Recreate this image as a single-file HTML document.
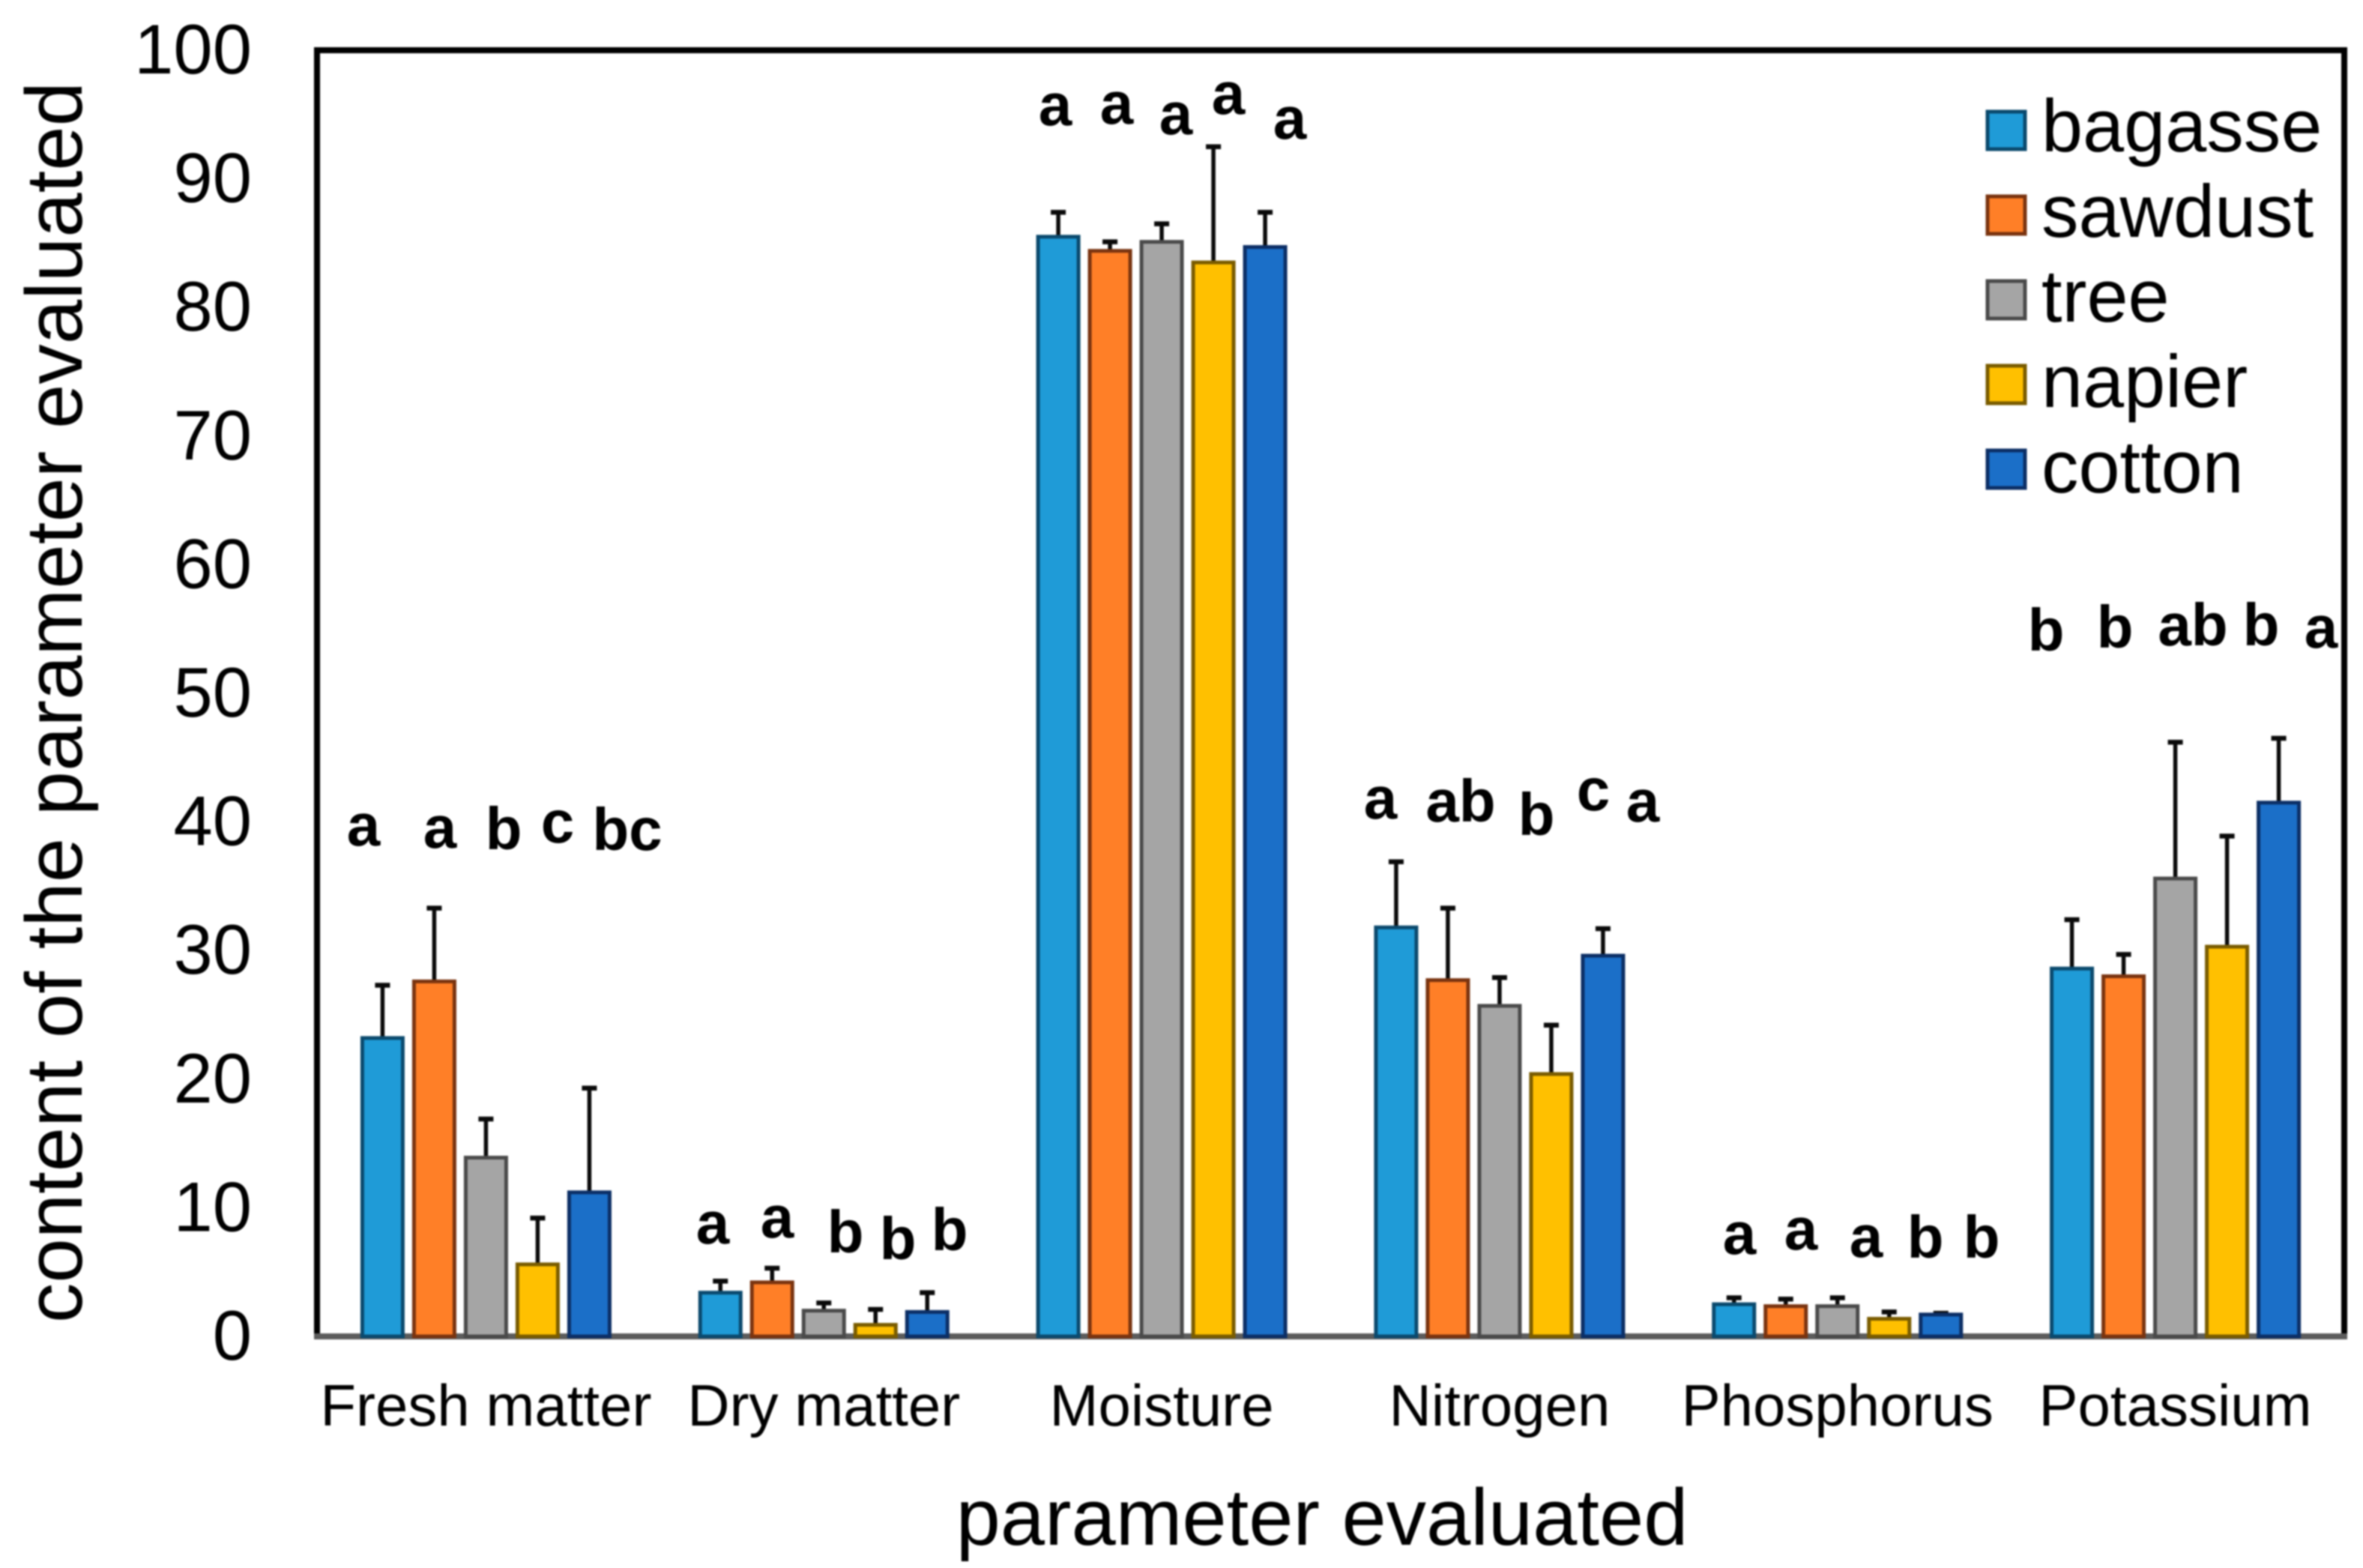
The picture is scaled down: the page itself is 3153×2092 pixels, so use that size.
<!DOCTYPE html>
<html lang="en">
<head>
<meta charset="utf-8">
<title>Content of the parameter evaluated</title>
<style>
  html, body { margin: 0; padding: 0; background: #fff; }
  body { width: 3153px; height: 2092px; overflow: hidden; }
  svg { display: block; filter: blur(1px); }
  text { font-family: "Liberation Sans", Arial, sans-serif; fill: #000; }
  .sig { font-size: 80px; font-weight: 700; text-anchor: middle; }
  .legend-label { font-size: 99px; }
</style>
</head>
<body>
<svg id="chart" xmlns="http://www.w3.org/2000/svg" width="3153" height="2092" viewBox="0 0 3153 2092">
  <rect x="0" y="0" width="3153" height="2092" fill="#ffffff"/>
  <g id="bars"></g>
  <path d="M423 1783 V67 H3128 V1783" fill="none" stroke="#000" stroke-width="8"/>
  <line x1="419" y1="1783" x2="3132" y2="1783" stroke="#5c5c5c" stroke-width="8"/>
  <g id="bars-top"></g>
  <g id="yticks"></g>
  <g id="xticks"></g>
  <text transform="translate(109,1765) rotate(-90)" font-size="106.5" textLength="1656" lengthAdjust="spacingAndGlyphs">content of the parameter evaluated</text>
  <text x="1764" y="2061" font-size="106.5" text-anchor="middle">parameter evaluated</text>

  <g>
    <text class="sig" x="485" y="1128">a</text>
    <text class="sig" x="587" y="1131">a</text>
    <text class="sig" x="672" y="1133">b</text>
    <text class="sig" x="744" y="1124">c</text>
    <text class="sig" x="837" y="1134">bc</text>

    <text class="sig" x="951" y="1659">a</text>
    <text class="sig" x="1037" y="1651">a</text>
    <text class="sig" x="1128" y="1671">b</text>
    <text class="sig" x="1198" y="1680">b</text>
    <text class="sig" x="1267" y="1668">b</text>

    <text class="sig" x="1408" y="167">a</text>
    <text class="sig" x="1490" y="165">a</text>
    <text class="sig" x="1569" y="179">a</text>
    <text class="sig" x="1639" y="152">a</text>
    <text class="sig" x="1721" y="185">a</text>

    <text class="sig" x="1842" y="1092">a</text>
    <text class="sig" x="1949" y="1096">ab</text>
    <text class="sig" x="2050" y="1114">b</text>
    <text class="sig" x="2126" y="1081">c</text>
    <text class="sig" x="2192" y="1096">a</text>

    <text class="sig" x="2321" y="1673">a</text>
    <text class="sig" x="2403" y="1667">a</text>
    <text class="sig" x="2490" y="1677">a</text>
    <text class="sig" x="2569" y="1678">b</text>
    <text class="sig" x="2644" y="1678">b</text>

    <text class="sig" x="2730" y="868">b</text>
    <text class="sig" x="2822" y="864">b</text>
    <text class="sig" x="2926" y="861">ab</text>
    <text class="sig" x="3017" y="861">b</text>
    <text class="sig" x="3097" y="864">a</text>
  </g>

  <g>
    <g>
      <rect x="2652" y="149" width="50" height="50" fill="#1f9bd7" stroke="#0b4a6e" stroke-width="5"/>
      <text class="legend-label" x="2724" y="202">bagasse</text>
    </g>
    <g>
      <rect x="2652" y="262" width="50" height="50" fill="#ff7f27" stroke="#7a3410" stroke-width="5"/>
      <text class="legend-label" x="2724" y="316">sawdust</text>
    </g>
    <g>
      <rect x="2652" y="375" width="50" height="50" fill="#a5a5a5" stroke="#4a4a4a" stroke-width="5"/>
      <text class="legend-label" x="2724" y="429">tree</text>
    </g>
    <g>
      <rect x="2652" y="488" width="50" height="50" fill="#ffc000" stroke="#7a5c00" stroke-width="5"/>
      <text class="legend-label" x="2724" y="543">napier</text>
    </g>
    <g>
      <rect x="2652" y="601" width="50" height="50" fill="#1b6fc8" stroke="#0c2f66" stroke-width="5"/>
      <text class="legend-label" x="2724" y="657">cotton</text>
    </g>
  </g>
</svg>

<script>
const categories = ['Fresh matter', 'Dry matter', 'Moisture', 'Nitrogen', 'Phosphorus', 'Potassium'];
const seriesNames = ['bagasse', 'sawdust', 'tree', 'napier', 'cotton'];
const yTickLabels = [0, 10, 20, 30, 40, 50, 60, 70, 80, 90, 100];

const bagasseValues = [23.2, 3.4, 85.5, 31.8, 2.5, 28.6];
const sawdustValues = [27.6, 4.2, 84.4, 27.7, 2.35, 28.0];
const treeValues = [13.9, 2.0, 85.1, 25.7, 2.35, 35.6];
const napierValues = [5.6, 0.9, 83.5, 20.4, 1.37, 30.3];
const cottonValues = [11.2, 1.9, 84.7, 29.6, 1.7, 41.5];

const bagasseErrorTops = [27.3, 4.3, 87.4, 36.9, 3.0, 32.4];
const sawdustErrorTops = [33.3, 5.3, 85.1, 33.3, 2.9, 29.7];
const treeErrorTops = [16.9, 2.6, 86.5, 27.9, 3.0, 46.2];
const napierErrorTops = [9.2, 2.1, 92.5, 24.2, 1.9, 38.9];
const cottonErrorTops = [19.3, 3.4, 87.4, 31.7, 1.8, 46.5];

const NS = 'http://www.w3.org/2000/svg';
const plotLeft = 423, plotRight = 3128, plotTop = 67, plotBottom = 1783;
const yMax = 100;
const barStep = 69, barWidth = 54;

function yScale(v) {
  return plotBottom - (v / yMax) * (plotBottom - plotTop);
}
function groupCenter(i) {
  return plotLeft + (plotRight - plotLeft) / categories.length * (i + 0.5);
}
function barCenter(i, s) {
  return groupCenter(i) + (s - (seriesNames.length - 1) / 2) * barStep;
}
function make(tag, attrs, parent) {
  const el = document.createElementNS(NS, tag);
  for (const k in attrs) el.setAttribute(k, attrs[k]);
  parent.appendChild(el);
  return el;
}

const fills = ['#1f9bd7', '#ff7f27', '#a5a5a5', '#ffc000', '#1b6fc8'];
const strokes = ['#0b4a6e', '#7a3410', '#4a4a4a', '#7a5c00', '#0c2f66'];
const seriesValues = [bagasseValues, sawdustValues, treeValues, napierValues, cottonValues];
const seriesErrors = [bagasseErrorTops, sawdustErrorTops, treeErrorTops, napierErrorTops, cottonErrorTops];

const barsLayer = document.getElementById('bars-top');
seriesNames.forEach(function (name, s) {
  categories.forEach(function (cat, i) {
    const cx = barCenter(i, s);
    const top = yScale(seriesValues[s][i]);
    const errTop = yScale(seriesErrors[s][i]);

    const stem = make('line', { x1: cx, x2: cx, y1: top, y2: errTop, stroke: '#0a0a0a', 'stroke-width': 5.5 }, barsLayer);
    
    

    const cap = make('line', { x1: cx - 10, x2: cx + 10, y1: errTop, y2: errTop, stroke: '#0a0a0a', 'stroke-width': 6.5 }, barsLayer);
    
    

    const bar = make('rect', {
      x: cx - barWidth / 2, y: top, width: barWidth, height: Math.max(0, yScale(0) - top),
      fill: fills[s], stroke: strokes[s], 'stroke-width': 5
    }, barsLayer);
    
    
  });
});

const yLayer = document.getElementById('yticks');
yTickLabels.forEach(function (t) {
  const label = make('text', { x: 336, y: yScale(t) + 31, 'font-size': 94, 'text-anchor': 'end' }, yLayer);
  label.textContent = String(t);
  
  
});

const xLayer = document.getElementById('xticks');
categories.forEach(function (cat, i) {
  const label = make('text', { x: groupCenter(i), y: 1902, 'font-size': 78, 'text-anchor': 'middle' }, xLayer);
  label.textContent = cat;
  
  
});
</script>
</body>
</html>
